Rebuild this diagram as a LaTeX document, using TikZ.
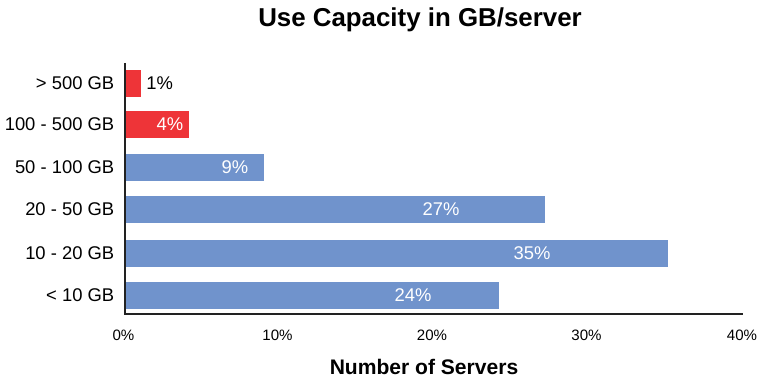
\documentclass[tikz,border=0pt]{standalone}
\usepackage{fontspec}
\setmainfont{Liberation Sans}
\definecolor{barred}{RGB}{238,52,56}
\definecolor{barblue}{RGB}{112,147,204}
\definecolor{axisgray}{RGB}{34,34,34}
\begin{document}
\begin{tikzpicture}[x=0.75pt,y=-0.75pt,
  catlabel/.style={anchor=east,font=\fontsize{13.8}{15}\selectfont,inner sep=0pt},
  inlabel/.style={font=\fontsize{13.8}{15}\selectfont,text=white,inner sep=0pt},
  ticklabel/.style={font=\fontsize{11.3}{13}\selectfont,inner sep=0pt},
  axisline/.style={draw=axisgray,line width=1.6pt}]
\useasboundingbox (0,0) rectangle (759,381);
% title
\node[font=\bfseries\fontsize{19.4}{22}\selectfont] (title) at (420,20) {Use Capacity in GB/server};
% bars
\fill[barred]  (126,70)  rectangle (141,97);
\fill[barred]  (126,111) rectangle (189,138);
\fill[barblue] (126,154) rectangle (264,181);
\fill[barblue] (126,196) rectangle (545,223);
\fill[barblue] (126,240) rectangle (668,267);
\fill[barblue] (126,282) rectangle (499,309);
% axes
\draw[axisline] (125,63) -- (125,314) -- (743,314);
% category labels
\node[catlabel] (c1) at (114.5,83.5)  {> 500 GB};
\node[catlabel] (c2) at (114.5,124.5) {100 - 500 GB};
\node[catlabel] (c3) at (114.5,167.5) {50 - 100 GB};
\node[catlabel] (c4) at (114.5,209.5) {20 - 50 GB};
\node[catlabel] (c5) at (114.5,253.5) {10 - 20 GB};
\node[catlabel] (c6) at (114.5,295.5) {< 10 GB};
% value labels
\node[catlabel,anchor=west] (v1) at (146,83.5) {1\%};
\node[inlabel] (v2) at (170,124.5) {4\%};
\node[inlabel] (v3) at (235,167.5) {9\%};
\node[inlabel] (v4) at (441,209.5) {27\%};
\node[inlabel] (v5) at (532,253.5) {35\%};
\node[inlabel] (v6) at (413,295.5) {24\%};
% tick labels
\node[ticklabel] (t0) at (123.5,335) {0\%};
\node[ticklabel] (t1) at (277.5,335) {10\%};
\node[ticklabel] (t2) at (432,335)   {20\%};
\node[ticklabel] (t3) at (586.5,335) {30\%};
\node[ticklabel] (t4) at (742,335)   {40\%};
% axis title
\node[font=\bfseries\fontsize{15.8}{18}\selectfont] (xtitle) at (424,367) {Number of Servers};
\end{tikzpicture}
\end{document}
